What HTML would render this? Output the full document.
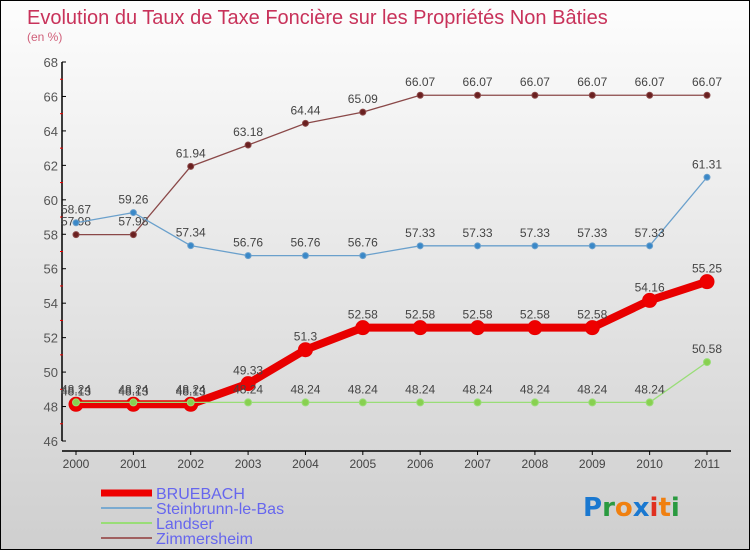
<!DOCTYPE html>
<html><head><meta charset="utf-8"><style>
html,body{margin:0;padding:0}
body{width:750px;height:550px;overflow:hidden;font-family:"Liberation Sans",sans-serif}
#c{position:absolute;left:0;top:0;width:748px;height:548px;border:1px solid #000;background:linear-gradient(#fdfdfd,#cfcfcf)}
</style></head><body>
<div id="c">
<svg id="s" width="748" height="548" xmlns="http://www.w3.org/2000/svg">
<text x="26" y="23" font-size="20" fill="#c8325a">Evolution du Taux de Taxe Foncière sur les Propriétés Non Bâties</text>
<text x="26" y="40" font-size="12" fill="#d0607a">(en %)</text>
<g id="axes"></g><g id="series"></g>
<g>
<line x1="100" y1="492" x2="151" y2="492" stroke="#e00" stroke-width="7"/>
<text x="155" y="498" font-size="16" fill="#6666ee">BRUEBACH</text>
<line x1="100" y1="507" x2="151" y2="507" stroke="#7aaad0" stroke-width="2"/>
<text x="155" y="513" font-size="16" fill="#6666ee">Steinbrunn-le-Bas</text>
<line x1="100" y1="522" x2="151" y2="522" stroke="#99dd77" stroke-width="2"/>
<text x="155" y="528" font-size="16" fill="#6666ee">Landser</text>
<line x1="100" y1="537" x2="151" y2="537" stroke="#a06060" stroke-width="2"/>
<text x="155" y="543" font-size="16" fill="#6666ee">Zimmersheim</text>
</g>
<text x="582" y="515" font-size="26" font-weight="bold" font-family="DejaVu Sans, sans-serif"><tspan fill="#1a78d0">P</tspan><tspan fill="#2a9a40">r</tspan><tspan fill="#f08010">o</tspan><tspan fill="#1a78d0">x</tspan><tspan fill="#e03020">i</tspan><tspan fill="#f08010">t</tspan><tspan fill="#2a9a40">i</tspan></text>
</svg></div>
<script>
const years=[2000,2001,2002,2003,2004,2005,2006,2007,2008,2009,2010,2011];
const yTicks=[46,48,50,52,54,56,58,60,62,64,66,68];
const bruebach=[48.13,48.13,48.13,49.33,51.3,52.58,52.58,52.58,52.58,52.58,54.16,55.25];
const steinbrunn=[58.67,59.26,57.34,56.76,56.76,56.76,57.33,57.33,57.33,57.33,57.33,61.31];
const landser=[48.24,48.24,48.24,48.24,48.24,48.24,48.24,48.24,48.24,48.24,48.24,50.58];
const zimmersheim=[57.98,57.98,61.94,63.18,64.44,65.09,66.07,66.07,66.07,66.07,66.07,66.07];
const NS="http://www.w3.org/2000/svg";
const X=i=>75+i*(706-75)/(years.length-1);
const Y=v=>440-(v-46)*(440-61)/22;
function mk(t,a,p){const e=document.createElementNS(NS,t);for(const k in a)e.setAttribute(k,a[k]);p.appendChild(e);return e;}
const ax=document.getElementById('axes');
let e=mk('line',{x1:61,y1:61,x2:61,y2:440,stroke:'#000','stroke-width':1.5},ax);


e=mk('line',{x1:61,y1:450,x2:730,y2:450,stroke:'#000','stroke-width':1.5},ax);


yTicks.forEach((v,i)=>{
 mk('line',{x1:61,y1:Y(v),x2:65,y2:Y(v),stroke:'#000'},ax);
 if(i<yTicks.length-1)mk('line',{x1:59,y1:Y(v+1),x2:62,y2:Y(v+1),stroke:'#e00'},ax);
 const t=mk('text',{x:57,y:Y(v)+5,'font-size':13,fill:'#555','text-anchor':'end'},ax);t.textContent=v;
 
 
});
years.forEach((y,i)=>{
 mk('line',{x1:X(i),y1:450,x2:X(i),y2:454,stroke:'#000'},ax);
 const t=mk('text',{x:X(i),y:467,'font-size':12,fill:'#444','text-anchor':'middle'},ax);t.textContent=y;
 
 
});
const sg=document.getElementById('series');
function draw(data,name,color,w,r,fill){
 const g=mk('g',{},sg);
 
 
 const p=mk('polyline',{points:data.map((v,i)=>X(i)+','+Y(v)).join(' '),fill:'none',stroke:color,'stroke-width':w,'stroke-linejoin':'round'},g);
 
 
 data.forEach((v,i)=>{
  const c=mk('circle',{cx:X(i),cy:Y(v),r:r,fill:fill,stroke:color,'stroke-width':1},g);
  
  
  const t=mk('text',{x:X(i),y:Y(v)-9,'font-size':12,fill:'#444','text-anchor':'middle'},g);t.textContent=v;
  
  
 });
}
draw(zimmersheim,'zimmersheim','#8a4848',1.3,3,'#6a2020');
draw(steinbrunn,'steinbrunn','#6aa0cc',1.3,3,'#3a88c8');
draw(bruebach,'bruebach','#e80000',8,7,'#e00');
draw(landser,'landser','#99dd77',1.3,3.5,'#88d050');
</script>
</body></html>
